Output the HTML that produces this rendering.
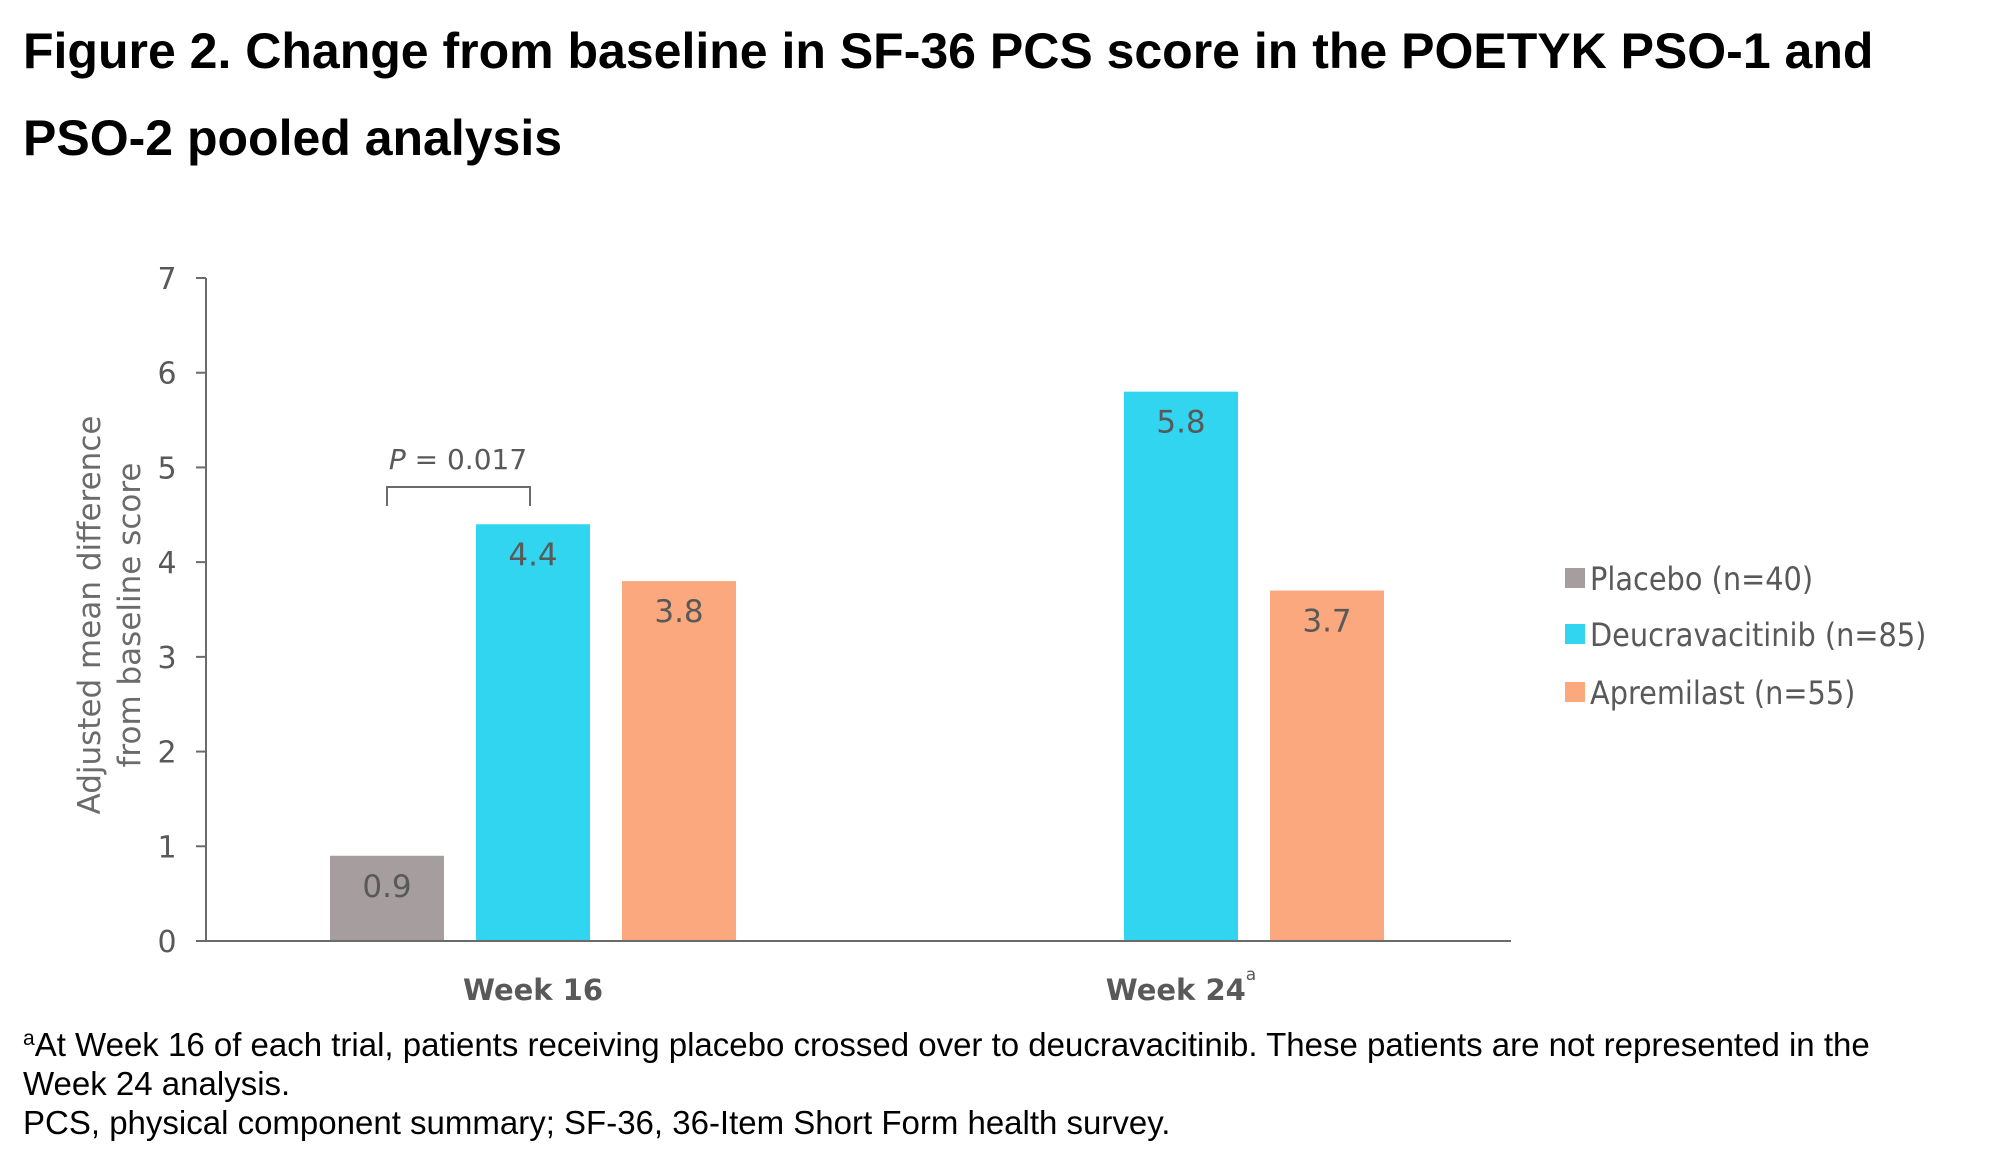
<!DOCTYPE html>
<html><head><meta charset="utf-8"><style>
body{margin:0;background:#fff;}
svg{display:block;}
</style></head><body>
<svg id="chart" width="1999" height="1165" viewBox="0 0 1999 1165" xmlns="http://www.w3.org/2000/svg">
<g font-family="Liberation Sans, sans-serif" font-weight="bold" font-size="50" fill="#000">
<text x="23" y="68">Figure 2. Change from baseline in SF-36 PCS score in the POETYK PSO-1 and</text>
<text x="23" y="155">PSO-2 pooled analysis</text>
</g>
<g id="plot"></g>
<g font-family="Liberation Sans, sans-serif" font-size="33" fill="#000">
<text x="23" y="1056"><tspan font-size="21" dy="-11">a</tspan><tspan dy="11">At Week 16 of each trial, patients receiving placebo crossed over to deucravacitinib. These patients are not represented in the</tspan></text>
<text x="23" y="1095">Week 24 analysis.</text>
<text x="23" y="1134">PCS, physical component summary; SF-36, 36-Item Short Form health survey.</text>
</g>
</svg>
<script>
const categories = ["Week 16", "Week 24"];
const seriesNames = ["Placebo (n=40)", "Deucravacitinib (n=85)", "Apremilast (n=55)"];
const placebo = [0.9, null];
const deucravacitinib = [4.4, 5.8];
const apremilast = [3.8, 3.7];
const yTicks = [0, 1, 2, 3, 4, 5, 6, 7];
const colors = ["#a69e9e", "#31d5f0", "#fca87e"];

const NS = "http://www.w3.org/2000/svg";
const plot = document.getElementById('plot');
const X0 = 206, X1 = 1511, Y0 = 941, Y7 = 278;
function yScale(v){ return Y0 - (v/7)*(Y0-Y7); }
const groupCenters = [533, 1181];
const barW = 114, step = 146;
function xBar(ci, si){ return groupCenters[ci] + (si-1)*step - barW/2; }
function mk(tag, attrs, parent){ const e=document.createElementNS(NS,tag); for(const k in attrs) e.setAttribute(k, attrs[k]); (parent||plot).appendChild(e); return e; }

const series = [placebo, deucravacitinib, apremilast];
series.forEach((vals, si) => {
  vals.forEach((v, ci) => {
    if (v === null) return;
    const r = mk('rect', {x: xBar(ci, si), y: yScale(v), width: barW, height: Y0 - yScale(v), fill: colors[si]});
    
    
    const t = mk('text', {x: xBar(ci, si) + barW/2, y: yScale(v) + 41, 'text-anchor': 'middle', 'font-family': 'DejaVu Sans, sans-serif', 'font-size': '31', fill: '#595959'});
    t.textContent = v.toFixed(1);
    
    
  });
});

const ya = mk('line', {x1: X0, y1: Y7, x2: X0, y2: Y0, stroke: '#6b6b6b', 'stroke-width': 2});


const xa = mk('line', {x1: X0-10, y1: Y0, x2: X1, y2: Y0, stroke: '#6b6b6b', 'stroke-width': 2});


yTicks.forEach(v => {
  const tk = mk('line', {x1: X0-10, y1: yScale(v), x2: X0, y2: yScale(v), stroke: '#6b6b6b', 'stroke-width': 2});
  
  
  const tl = mk('text', {x: 167, y: yScale(v) + 11, 'text-anchor': 'middle', 'font-family': 'DejaVu Sans, sans-serif', 'font-size': '30', fill: '#595959'});
  tl.textContent = v;
  
  
});
categories.forEach((c, ci) => {
  const t = mk('text', {x: groupCenters[ci], y: 1000, 'text-anchor': 'middle', 'font-family': 'DejaVu Sans, sans-serif', 'font-weight': 'bold', 'font-size': '29', fill: '#595959'});
  
  
  const main = mk('tspan', {}, t);
  main.textContent = c;
  if (ci === 1) {
    const s = mk('tspan', {'font-size': '17', dy: '-20', 'font-weight': 'normal'}, t);
    s.textContent = 'a';
  }
});
const yt = mk('text', {transform: 'translate(100,615) rotate(-90)', 'text-anchor': 'middle', 'font-family': 'DejaVu Sans, sans-serif', 'font-size': '31', fill: '#6b6b6b'});


const t1 = mk('tspan', {x: 0, dy: 0}, yt); t1.textContent = 'Adjusted mean difference';
const t2 = mk('tspan', {x: 0, dy: 40}, yt); t2.textContent = 'from baseline score';

const br = mk('path', {d: 'M387 506 V487 H530 V506', fill: 'none', stroke: '#6b6b6b', 'stroke-width': 2});


const pt = mk('text', {x: 458, y: 469, 'text-anchor': 'middle', 'font-family': 'DejaVu Sans, sans-serif', 'font-size': '28', fill: '#595959'});
pt.innerHTML = '<tspan font-style="italic">P</tspan> = 0.017';



const legY = [578, 634, 692];
seriesNames.forEach((n, i) => {
  const sq = mk('rect', {x: 1565, y: legY[i]-10, width: 20, height: 20, fill: colors[i]});
  
  
  const lt = mk('text', {x: 1590, y: legY[i] + 12, 'font-family': 'DejaVu Sans Condensed, DejaVu Sans, sans-serif', 'font-stretch': 'condensed', 'font-size': '32', fill: '#595959'});
  lt.textContent = n;
  
  
});
</script>
</body></html>
